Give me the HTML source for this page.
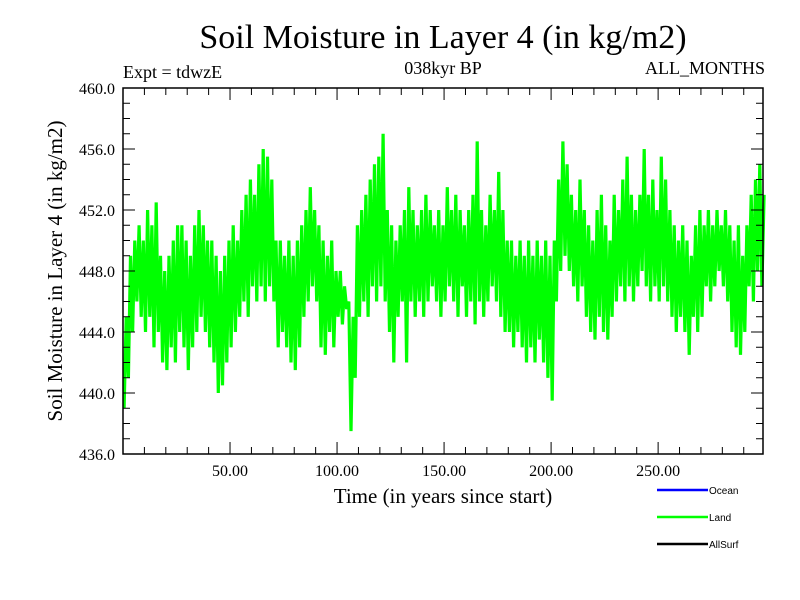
<!DOCTYPE html>
<html><head><meta charset="utf-8"><style>
body{margin:0;background:#fff}
svg{display:block}
text{font-family:"Liberation Serif",serif;fill:#000}
</style></head><body>
<svg id="chart" width="800" height="600">
<rect width="800" height="600" fill="#fff"/>
<text x="443" y="48" font-size="34" text-anchor="middle">Soil Moisture in Layer 4 (in kg/m2)</text>
<text x="123" y="78" font-size="18">Expt = tdwzE</text>
<text x="443" y="74" font-size="18" text-anchor="middle">038kyr BP</text>
<text x="765" y="74" font-size="18" text-anchor="end">ALL_MONTHS</text>
<g id="plot"></g>
<text x="443" y="503" font-size="21" text-anchor="middle">Time (in years since start)</text>
<text transform="translate(62,271) rotate(-90)" font-size="21" text-anchor="middle">Soil Moisture in Layer 4 (in kg/m2)</text>
<g id="legend"></g>
</svg>
<script>
const years = [];
const landValues = [
439,445,441,449,444,450,446,451,445,450,
444,452,445,451,443,452.5,444,449,442,448,
441.5,449,443,450,442,451,444,451,443,450,
441.5,449,443,451,444,452,445,451,444,450,
443,450,442,449,440,448,440.5,449,442,450,
443,451,444,450,445,452,446,453,445,454,
447,453,446,455,447,456,446,455.5,447,454,
446,450,443,450,444,449,443,450,442,449,
441.5,450,443,451,445,452,446,453.5,447,452,
446,451,443,450,442.5,449,444,450,443,448,
445,448,444.5,447,445.5,446,437.5,445,441,451,
445,452,446,453,445,454,447,455,446,455.5,
447,457,446,452,444,451,442,450,445,451,
446,452,442,453.5,446,452,445,451,446,452,
445,453,446,452,447,451,446,452,445,451,
446,453.5,447,452,446,453,445,452,447,451,
445,452,446,453,444.5,456.5,446,452,445,451,
446,453,447,452,446,454.5,445,452,444,450,
444,450,443,449,444,450,443,449,442,450,
443,449,442,450,443.5,449,442,450,441,449,
439.5,450,446,454,448,456.5,449,455,448,453,
447,452,446,454,447,452,445,451,444,450,
443.5,452,445,453,444,451,443.5,450,445,453,
446,452,447,454,446,455.5,447,453,446,452,
447,453,448,456,447,453,446,454,447,452,
446,455.5,447,454,446,452,445,451,444,450,
445,451,444,450,442.5,449,445,451,444,452,
445,451,447,452,446,451,447,452,448,451,
447,452,446,451,444,450,443,451,442.5,449,
444,451,447,453,446,454,448,455,447,453];
for(let i=0;i<landValues.length;i++) years.push(i+0.5);
const yTicks = [436,440,444,448,452,456,460];
const xTicks = [50,100,150,200,250];
const legendNames = ["Ocean","Land","AllSurf"];
const legendColors = ["#0000ff","#00ff00","#000000"];

const NS="http://www.w3.org/2000/svg";
const L=123,R=763,T=88,B=454, X0=0,X1=299, Y0=436,Y1=460;
const xs=v=>L+(v-X0)/(X1-X0)*(R-L);
const ys=v=>B-(v-Y0)/(Y1-Y0)*(B-T);
const plot=document.getElementById('plot');
function mk(tag,attrs,parent){const e=document.createElementNS(NS,tag);for(const k in attrs)e.setAttribute(k,attrs[k]);(parent||plot).appendChild(e);return e;}

let d='';
for(let i=0;i<landValues.length;i++){d+=(i?'L':'M')+xs(years[i]).toFixed(1)+','+ys(landValues[i]).toFixed(1);}
const line=mk('path',{d:d,fill:'none',stroke:'#00ff00','stroke-width':3.2,'stroke-linejoin':'bevel'});



const frame=mk('rect',{x:L,y:T,width:R-L,height:B-T,fill:'none',stroke:'#000','stroke-width':1.5});



for(let v=Y0;v<=Y1;v+=1){
  const major=yTicks.includes(v);const len=major?12:7;const y=ys(v);
  const t1=mk('line',{x1:L,x2:L+len,y1:y,y2:y,stroke:'#000','stroke-width':1});
  
  
  const t2=mk('line',{x1:R,x2:R-len,y1:y,y2:y,stroke:'#000','stroke-width':1});
  
  
}
yTicks.forEach(v=>{
  const t=mk('text',{x:115,y:ys(v)+6,'font-size':16,'text-anchor':'end'});
  t.textContent=v.toFixed(1);
  
  
});
for(let v=10;v<X1;v+=10){
  const major=xTicks.includes(v);const len=major?12:7;const x=xs(v);
  const t1=mk('line',{x1:x,x2:x,y1:B,y2:B-len,stroke:'#000','stroke-width':1});
  
  
  const t2=mk('line',{x1:x,x2:x,y1:T,y2:T+len,stroke:'#000','stroke-width':1});
  
  
}
xTicks.forEach(v=>{
  const t=mk('text',{x:xs(v),y:476,'font-size':16,'text-anchor':'middle'});
  t.textContent=v.toFixed(2);
  
  
});
const lg=document.getElementById('legend');
legendNames.forEach((n,i)=>{
  const y=490+i*27;
  const l=mk('line',{x1:657,x2:708,y1:y,y2:y,stroke:legendColors[i],'stroke-width':2.5},lg);
  
  
  const t=mk('text',{x:709,y:y+4,'font-size':10,style:'font-family:"Liberation Sans",sans-serif'},lg);
  t.textContent=n;
  
  
});
</script>
</body></html>
